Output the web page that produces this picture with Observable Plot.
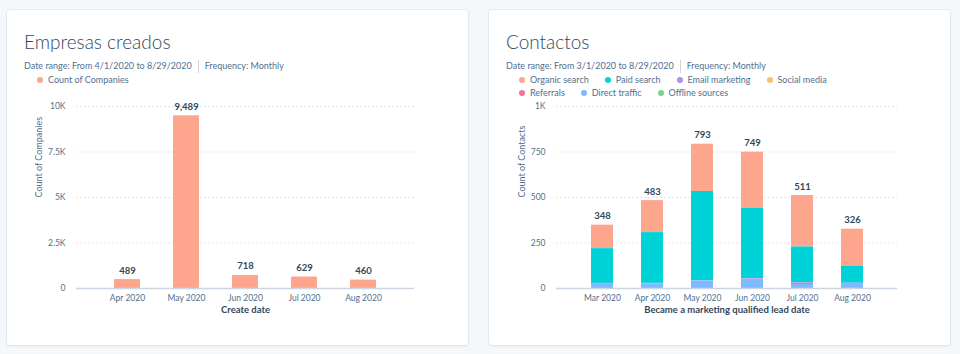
<!DOCTYPE html>
<html><head><meta charset="utf-8">
<script src="https://cdn.jsdelivr.net/npm/d3@7"></script>
<script src="https://cdn.jsdelivr.net/npm/@observablehq/plot@0.6"></script>
<style>
html,body{margin:0;padding:0;}
body{width:960px;height:354px;background:#f5f8fa;position:relative;overflow:hidden;font-family:Lato,"Open Sans",sans-serif;}
.card{position:absolute;top:10px;height:335px;width:461px;background:#fff;border-radius:3px;box-shadow:0 0 0 1px rgba(45,62,80,0.05),0 1px 3px rgba(45,62,80,0.08);}
.title{position:absolute;left:17px;top:20px;font-size:19px;font-weight:300;color:#33475b;line-height:24px;white-space:nowrap;}
.sub{position:absolute;left:17px;top:50px;font-size:9px;color:#516f90;white-space:nowrap;line-height:12px;}
.sep{display:inline-block;width:1px;height:13px;background:#cbd6e2;vertical-align:middle;margin:0 6px;}
.legend{position:absolute;left:30px;top:63px;display:flex;flex-wrap:wrap;width:420px;font-size:9px;color:#516f90;}
.item{display:flex;align-items:center;margin-right:16px;height:13.3px;white-space:nowrap;}
.dot{width:6px;height:6px;border-radius:50%;margin-right:5px;}
.brk{flex-basis:100%;height:0;}
.chart{position:absolute;left:0;top:86px;}
.chart svg{overflow:visible;}
</style>
</head>
<body>
<div class="card" id="card1" style="left:7px">
  <div class="title">Empresas creados</div>
  <div class="sub">Date range: From 4/1/2020 to 8/29/2020<span class="sep"></span>Frequency: Monthly</div>
  <div class="legend" id="legend1"></div>
  <div class="chart" id="chart1"></div>
</div>
<div class="card" id="card2" style="left:489px">
  <div class="title">Contactos</div>
  <div class="sub">Date range: From 3/1/2020 to 8/29/2020<span class="sep"></span>Frequency: Monthly</div>
  <div class="legend" id="legend2"></div>
  <div class="chart" id="chart2"></div>
</div>
<script>
// ---- Data: Empresas creados ----
const companyMonths = ["Apr 2020", "May 2020", "Jun 2020", "Jul 2020", "Aug 2020"];
const companyCounts = [489, 9489, 718, 629, 460];
const companyTicks = [0, 2500, 5000, 7500, 10000];
const companyTickLabels = ["0", "2.5K", "5K", "7.5K", "10K"];
const companySeries = ["Count of Companies"];
const companyColors = ["#fea58e"];

// ---- Data: Contactos ----
const contactMonths = ["Mar 2020", "Apr 2020", "May 2020", "Jun 2020", "Jul 2020", "Aug 2020"];
const sources = ["Organic search", "Paid search", "Email marketing", "Social media", "Referrals", "Direct traffic", "Offline sources"];
const sourceColors = ["#fea58e", "#00d3d8", "#a992e6", "#f5c26b", "#f2729a", "#7fbaff", "#80cf8c"];
const organicSearch  = [129, 176, 260, 308, 283, 203];
const paidSearch     = [191, 279, 491, 386, 197, 94];
const emailMarketing = [0, 1, 1, 3, 3, 1];
const socialMedia    = [0, 0, 0, 0, 0, 0];
const referrals      = [1, 1, 0, 1, 6, 0];
const directTraffic  = [27, 26, 41, 51, 22, 28];
const offlineSources = [0, 0, 0, 0, 0, 0];
const contactTotals  = [348, 483, 793, 749, 511, 326];
const contactTicks = [0, 250, 500, 750, 1000];
const contactTickLabels = ["0", "250", "500", "750", "1K"];

function buildLegend(el, names, colors, breakAfter) {
  names.forEach((n, i) => {
    const it = document.createElement("div");
    it.className = "item";
    const d = document.createElement("span");
    d.className = "dot";
    d.style.background = colors[i];
    it.appendChild(d);
    it.appendChild(document.createTextNode(n));
    el.appendChild(it);
    if (breakAfter && i === breakAfter - 1) {
      const b = document.createElement("div");
      b.className = "brk";
      el.appendChild(b);
    }
  });
}
buildLegend(document.getElementById("legend1"), companySeries, companyColors);
buildLegend(document.getElementById("legend2"), sources, sourceColors, 4);

const baseStyle = {fontFamily: "Lato, 'Open Sans', sans-serif", fontSize: "8.5px", color: "#516f90", background: "transparent", overflow: "visible"};
const fmt = d3.format(",");

// ---- Chart 1 ----
const companyData = companyMonths.map((m, i) => ({month: m, count: companyCounts[i]}));
const chart1 = Plot.plot({
  width: 461, height: 240,
  marginTop: 10, marginBottom: 48, marginLeft: 69, marginRight: 54,
  style: baseStyle,
  x: {domain: companyMonths, padding: 0.56, inset: 3, label: null},
  y: {domain: [0, 10000], label: null},
  marks: [
    Plot.ruleY(companyTicks.slice(1), {stroke: "#dfe3eb", strokeDasharray: "2,2"}),
    Plot.barY(companyData, {x: "month", y: "count", fill: companyColors[0]}),
    Plot.ruleY([0], {stroke: "#cbd6e2", strokeWidth: 1.5}),
    Plot.axisX({tickSize: 0, tickPadding: 6, label: null}),
    Plot.axisY({ticks: companyTicks, tickFormat: d => companyTickLabels[companyTicks.indexOf(d)], tickSize: 0, tickPadding: 11, label: null}),
    Plot.text(companyData, {x: "month", y: "count", text: d => fmt(d.count), dy: -9, fontWeight: 700, fill: "#33475b", fontSize: 9.5}),
    Plot.text(["Create date"], {frameAnchor: "bottom", dy: 24, fontWeight: 700, fill: "#33475b", fontSize: 9.5}),
    Plot.text(["Count of Companies"], {frameAnchor: "left", dx: -37, rotate: -90, fill: "#516f90", fontSize: 9})
  ]
});
document.getElementById("chart1").appendChild(chart1);

// ---- Chart 2 ----
const seriesValues = [organicSearch, paidSearch, emailMarketing, socialMedia, referrals, directTraffic, offlineSources];
const contactData = sources.flatMap((s, j) => contactMonths.map((m, i) => ({month: m, source: s, value: seriesValues[j][i]})));
const totalsData = contactMonths.map((m, i) => ({month: m, total: contactTotals[i]}));
const chart2 = Plot.plot({
  width: 461, height: 240,
  marginTop: 10, marginBottom: 48, marginLeft: 67, marginRight: 53,
  style: baseStyle,
  x: {domain: contactMonths, padding: 0.57, inset: 3, label: null},
  y: {domain: [0, 1000], label: null},
  color: {domain: sources, range: sourceColors},
  marks: [
    Plot.ruleY(contactTicks.slice(1), {stroke: "#dfe3eb", strokeDasharray: "2,2"}),
    Plot.barY(contactData, {x: "month", y: "value", fill: "source", order: [...sources].reverse()}),
    Plot.ruleY([0], {stroke: "#cbd6e2", strokeWidth: 1.5}),
    Plot.axisX({tickSize: 0, tickPadding: 6, label: null}),
    Plot.axisY({ticks: contactTicks, tickFormat: d => contactTickLabels[contactTicks.indexOf(d)], tickSize: 0, tickPadding: 11, label: null}),
    Plot.text(totalsData, {x: "month", y: "total", text: d => fmt(d.total), dy: -9, fontWeight: 700, fill: "#33475b", fontSize: 9.5}),
    Plot.text(["Became a marketing qualified lead date"], {frameAnchor: "bottom", dy: 24, fontWeight: 700, fill: "#33475b", fontSize: 9.5}),
    Plot.text(["Count of Contacts"], {frameAnchor: "left", dx: -34, rotate: -90, fill: "#516f90", fontSize: 9})
  ]
});
document.getElementById("chart2").appendChild(chart2);
</script>
</body></html>
